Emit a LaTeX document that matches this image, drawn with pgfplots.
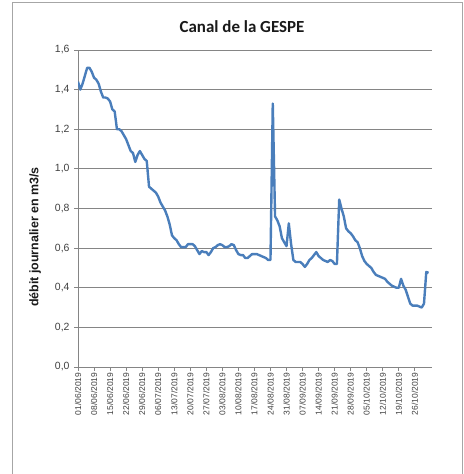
\documentclass[border=0pt]{standalone}
\usepackage{pgfplots}
\pgfplotsset{compat=1.18}
\usepackage{fontspec}
\setmainfont{Liberation Sans}
\newfontfamily\calibri{Carlito}
\definecolor{lineblue}{HTML}{4A7EBB}
\definecolor{gridgray}{HTML}{858585}
\definecolor{framegray}{HTML}{A6A6A6}
\definecolor{ticktext}{HTML}{404040}

\pgfplotstableread{
d v
0 1.44
1 1.40
2 1.43
4 1.51
5 1.51
6 1.49
7 1.46
8 1.45
9 1.43
10 1.39
11 1.36
12 1.36
13 1.355
14 1.34
15 1.30
16 1.29
17 1.20
18 1.20
19 1.19
20 1.17
21 1.15
22 1.12
23 1.09
24 1.08
25 1.035
26 1.07
27 1.09
28 1.07
29 1.05
30 1.04
31 0.91
32 0.90
33 0.89
34 0.88
35 0.86
36 0.83
37 0.81
38 0.79
39 0.76
40 0.72
41 0.665
42 0.65
43 0.64
44 0.62
45 0.605
46 0.605
47 0.605
48 0.62
49 0.62
50 0.62
51 0.61
52 0.59
53 0.57
54 0.585
55 0.58
56 0.58
57 0.565
58 0.58
59 0.60
60 0.605
61 0.615
62 0.62
63 0.615
64 0.605
65 0.605
66 0.61
67 0.62
68 0.615
69 0.59
70 0.57
71 0.565
72 0.565
73 0.55
74 0.55
75 0.56
76 0.57
77 0.57
78 0.57
79 0.565
80 0.56
81 0.555
82 0.55
83 0.54
84 0.54
85 1.33
86 0.76
87 0.74
88 0.71
89 0.65
90 0.63
91 0.61
92 0.725
93 0.62
94 0.54
95 0.53
96 0.53
97 0.53
98 0.52
99 0.505
100 0.52
101 0.54
102 0.55
103 0.565
104 0.58
105 0.56
106 0.55
107 0.54
108 0.535
109 0.53
110 0.54
111 0.535
112 0.52
113 0.52
114 0.845
115 0.80
116 0.76
117 0.70
118 0.685
119 0.675
120 0.66
121 0.64
122 0.63
123 0.60
124 0.56
125 0.535
126 0.52
127 0.51
128 0.50
129 0.48
130 0.465
131 0.46
132 0.455
133 0.45
134 0.445
135 0.43
136 0.42
137 0.41
138 0.405
139 0.40
140 0.40
141 0.445
142 0.41
143 0.39
144 0.355
145 0.32
146 0.31
147 0.31
148 0.31
149 0.305
150 0.30
151 0.32
152 0.48
153 0.475
}\debit

\begin{document}
\begin{tikzpicture}[x=1bp,y=1bp]
\path[use as bounding box] (0,0) rectangle (464,474);
\draw[framegray, line width=1bp] (12,-5) -- (12,471) -- (462.5,471) -- (462.5,-5);
\node[font=\calibri\bfseries\fontsize{17}{17}\selectfont, text=black!90] at (242,447) {Canal de la GESPE};
\node[rotate=90, font=\bfseries\fontsize{12.5}{12.5}\selectfont, text=black!90] at (35,237) {débit journalier en m3/s};
\begin{axis}[
  at={(78bp,107bp)}, anchor=south west,
  scale only axis, width=354bp, height=317bp,
  xmin=0, xmax=154.5, ymin=0, ymax=1.6,
  axis x line*=bottom, axis y line*=left,
  axis line style={gridgray, line width=0.8bp, -},
  ymajorgrids, grid style={gridgray, line width=0.8bp},
  ytick={0,0.2,0.4,0.6,0.8,1.0,1.2,1.4,1.6},
  xtick={0,7,...,147},
  xticklabels={01/06/2019,08/06/2019,15/06/2019,22/06/2019,29/06/2019,06/07/2019,13/07/2019,20/07/2019,27/07/2019,03/08/2019,10/08/2019,17/08/2019,24/08/2019,31/08/2019,07/09/2019,14/09/2019,21/09/2019,28/09/2019,05/10/2019,12/10/2019,19/10/2019,26/10/2019},
  tick align=outside, major tick length=4bp,
  tick style={gridgray, line width=0.8bp},
  x tick label style={rotate=90, anchor=east, font=\fontsize{8.5}{8.5}\selectfont, text=ticktext, inner sep=1.5bp},
  y tick label style={font=\fontsize{10.5}{10.5}\selectfont, text=ticktext, xshift=-1bp},
  /pgf/number format/.cd, fixed, fixed zerofill, precision=1, use comma, assume math mode=true,
]
\addplot[lineblue, line width=2.4bp, line join=round, no markers] table[x=d, y=v] {\debit};
\end{axis}
\end{tikzpicture}
\end{document}
